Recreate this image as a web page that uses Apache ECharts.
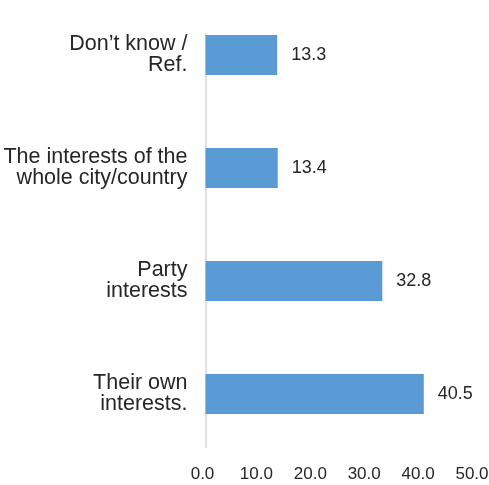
<!DOCTYPE html>
<html>
<head>
<meta charset="utf-8">
<script src="https://cdn.jsdelivr.net/npm/echarts@6/dist/echarts.min.js"></script>
<style>
  html, body { margin: 0; padding: 0; background: #fff; }
  #chart { width: 489px; height: 485px; }
</style>
</head>
<body>
<div id="chart"></div>
<script>
// Answers, listed top to bottom
const categories = [
  "Don\u2019t know /\nRef.",
  "The interests of the\nwhole city/country",
  "Party\ninterests",
  "Their own\ninterests."
];
// Percent of respondents for each answer
const values = [13.3, 13.4, 32.8, 40.5];
// Value axis range and step
const xMin = 0;
const xMax = 50;
const xStep = 10;

const FONT = "'Liberation Sans Narrow', 'Arial Narrow', 'Liberation Sans', Arial, sans-serif";
const TEXT = "#262626";

const chart = echarts.init(document.getElementById('chart'), null, { renderer: 'canvas' });
chart.setOption({
  animation: false,
  backgroundColor: '#ffffff',
  grid: [
    { left: 205.5, right: 14, top: -1.5, bottom: 34.5, containLabel: false, outerBoundsMode: 'none' },
    // thin helper grid that only carries the vertical axis line
    { left: 205.5, right: 14, top: 34, bottom: 38, containLabel: false, outerBoundsMode: 'none' }
  ],
  xAxis: [
    {
      gridIndex: 0,
      type: 'value',
      min: xMin,
      max: xMax,
      interval: xStep,
      axisLine: { show: false },
      axisTick: { show: false },
      splitLine: { show: false },
      axisLabel: {
        color: TEXT,
        fontFamily: FONT,
        fontSize: 17,
        margin: 15,
        padding: [0, 6, 0, 0],
        formatter: v => v.toFixed(1)
      }
    },
    { gridIndex: 1, type: 'value', show: false, min: xMin, max: xMax }
  ],
  yAxis: [
    {
      gridIndex: 0,
      type: 'category',
      data: categories,
      inverse: true,
      axisLine: { show: false },
      axisTick: { show: false },
      axisLabel: {
        color: TEXT,
        fontFamily: FONT,
        fontSize: 21.5,
        lineHeight: 21,
        align: 'right',
        margin: 18,
        padding: [0, 0, 5, 0]
      }
    },
    {
      gridIndex: 1,
      type: 'category',
      data: [''],
      axisLine: { show: true, lineStyle: { color: '#d9d9d9', width: 1.5 } },
      axisTick: { show: false },
      axisLabel: { show: false }
    }
  ],
  series: [
    {
      type: 'bar',
      xAxisIndex: 0,
      yAxisIndex: 0,
      data: values,
      barWidth: 40,
      itemStyle: { color: '#5b9bd5' },
      label: {
        show: true,
        position: 'right',
        distance: 14,
        color: TEXT,
        fontFamily: FONT,
        fontSize: 18,
        formatter: p => p.value.toFixed(1)
      }
    }
  ]
});
</script>
</body>
</html>
